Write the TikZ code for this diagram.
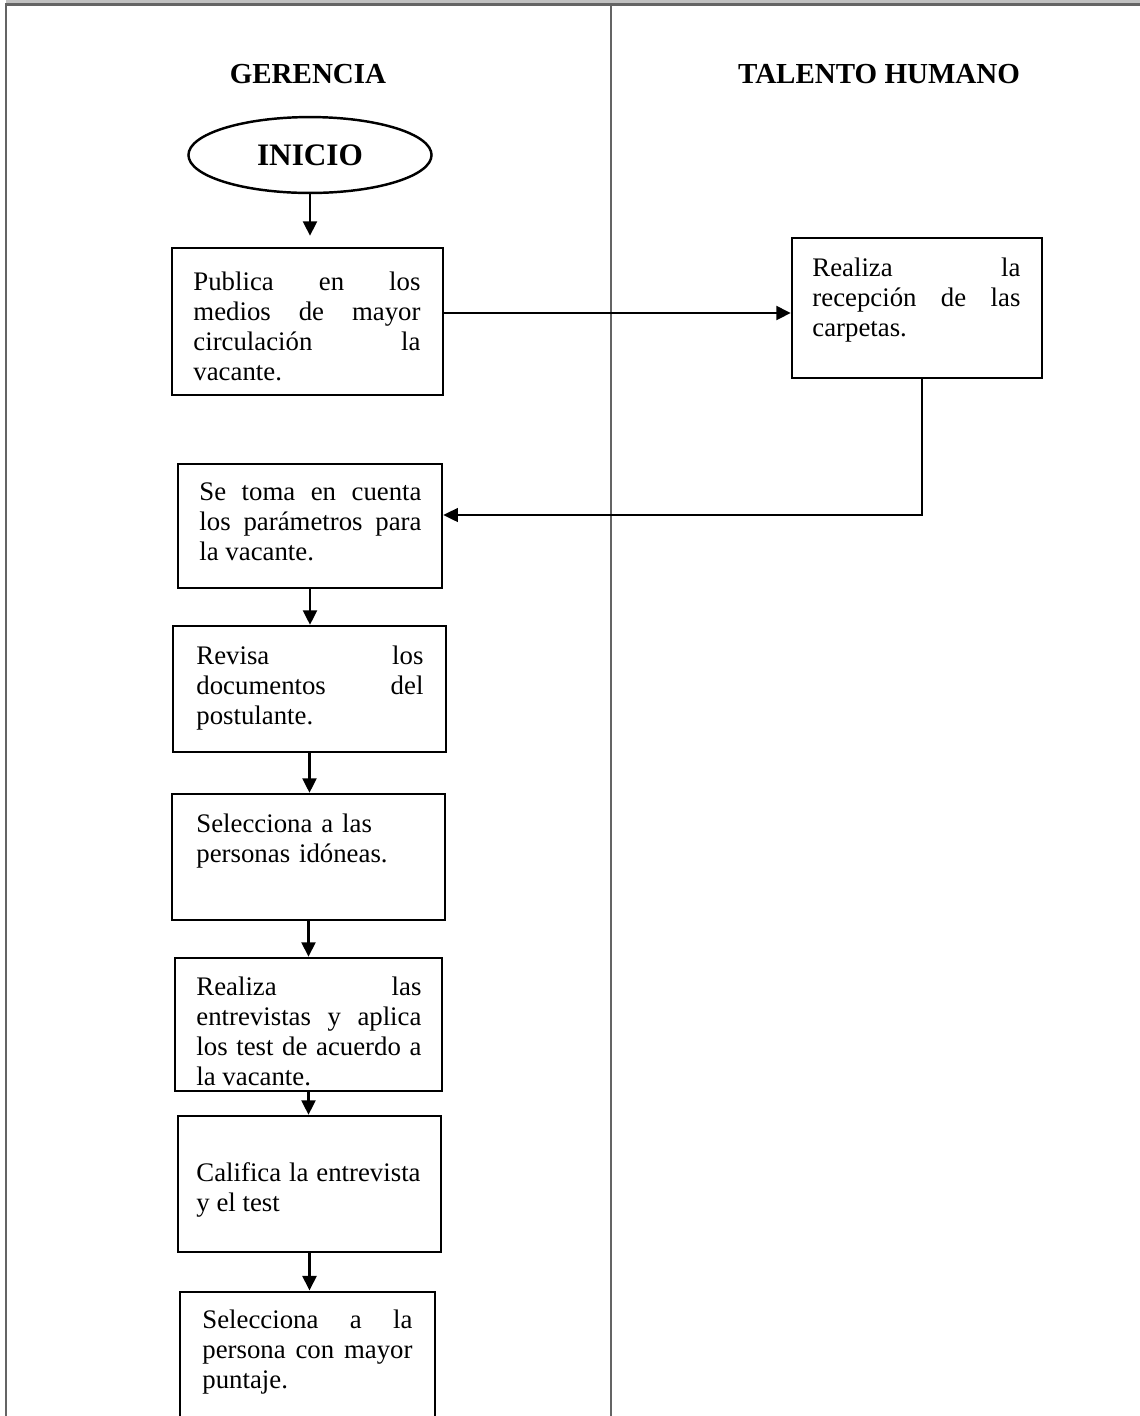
\documentclass[tikz,border=0pt]{standalone}
\usepackage{fontspec}
\setmainfont{Liberation Serif}
\usetikzlibrary{arrows.meta,shapes.geometric}
\definecolor{bandgray}{HTML}{C0C0C0}
\definecolor{rulegray}{HTML}{646464}
\newcommand{\boxfont}{\fontsize{12}{13.4}\selectfont\tolerance=10000\hbadness=10000\hyphenpenalty=10000\exhyphenpenalty=10000}
\begin{document}
\begin{tikzpicture}[x=0.448pt,y=-0.448pt,
  stepbox/.style={draw,line width=1.1pt,rectangle,inner sep=0pt},
  steptext/.style={anchor=north west,inner sep=0pt,align=justify,font=\boxfont},
  flow/.style={-{Triangle[length=6.5pt,width=6.2pt]},line width=1.2pt},
  back/.style={-{Triangle[length=6.5pt,width=6.2pt]},line width=0.6pt},
  lane/.style={font=\fontsize{13}{15}\selectfont\bfseries,inner sep=0pt}]
\useasboundingbox (0,0) rectangle (1140,1416);
\clip (0,0) rectangle (1140,1416);

% table frame
\fill[bandgray] (6,0) rectangle (1140,3.5);
\draw[rulegray,line width=1pt] (5,4.5) -- (1140,4.5);
\draw[rulegray,line width=1pt] (6,4) -- (6,1416);
\draw[rulegray,line width=1pt] (611,4) -- (611,1416);

% lane headers
\node[lane] (hg) at (308,74) {GERENCIA};
\node[lane] (ht) at (879,74) {TALENTO HUMANO};

% start terminal
\node[draw,ellipse,line width=1.1pt,minimum width=108.9pt,minimum height=34pt,inner sep=0pt,
      font=\fontsize{14}{16}\selectfont\bfseries] (ini) at (310,155) {INICIO};

% process boxes
\node[stepbox,minimum width=121.4pt,minimum height=65.9pt] (b1) at (307.5,321.5) {};
\node[stepbox,minimum width=112.0pt,minimum height=62.7pt] (b2) at (917,308) {};
\node[stepbox,minimum width=118.3pt,minimum height=55.6pt] (b3) at (310,526) {};
\node[stepbox,minimum width=122.3pt,minimum height=56.4pt] (b4) at (309.5,689) {};
\node[stepbox,minimum width=122.3pt,minimum height=56.4pt] (b5) at (308.5,857) {};
\node[stepbox,minimum width=119.6pt,minimum height=59.6pt] (b6) at (308.5,1024.5) {};
\node[stepbox,minimum width=117.8pt,minimum height=60.9pt] (b7) at (309.5,1184) {};
\node[stepbox,minimum width=114.2pt,minimum height=80pt] (b8) at (307.5,1381) {};

% box texts
\node[steptext,text width=101.7pt] (t1) at (193,269)
  {\strut Publica en los\linebreak medios de mayor\linebreak circulación la\linebreak vacante.};
\node[steptext,text width=93.2pt] (t2) at (812,255)
  {\strut Realiza la\linebreak recepción de las\linebreak carpetas.};
\node[steptext,text width=99.5pt] (t3) at (199,479)
  {\strut Se toma en cuenta\linebreak los parámetros para\linebreak la vacante.};
\node[steptext,text width=101.7pt] (t4) at (196,643)
  {\strut Revisa los\linebreak documentos del\linebreak postulante.};
\node[steptext,text width=101.7pt,align=left] (t5) at (196,811)
  {\strut Selecciona a las\\ personas idóneas.};
\node[steptext,text width=100.8pt] (t6) at (196,974)
  {\strut Realiza las\linebreak entrevistas y aplica\linebreak los test de acuerdo a\linebreak la vacante.};
\node[steptext,text width=100.4pt] (t7) at (196,1160)
  {\strut Califica la entrevista\linebreak y el test};
\node[steptext,text width=94.1pt] (t8) at (202,1307)
  {\strut Selecciona a la\linebreak persona con mayor\linebreak puntaje.};

% connectors
\coordinate (row1) at (0,313);
\coordinate (turn) at (922,515);
\draw[flow,shorten >=4.9pt] (ini.south) -- (ini.south |- b1.north);
\draw[flow] (b1.east |- row1) -- (b2.west |- row1);
\draw[back] (b2.south -| turn) -- (turn) -- (turn -| b3.east);
\draw[flow] (b3.south) -- (b3.south |- b4.north);
\draw[flow] (b4.south) -- (b4.south |- b5.north);
\draw[flow] (b5.south) -- (b5.south |- b6.north);
\draw[flow] (b6.south) -- (b6.south |- b7.north);
\draw[flow] (b7.south) -- (b7.south |- b8.north);
\end{tikzpicture}
\end{document}
